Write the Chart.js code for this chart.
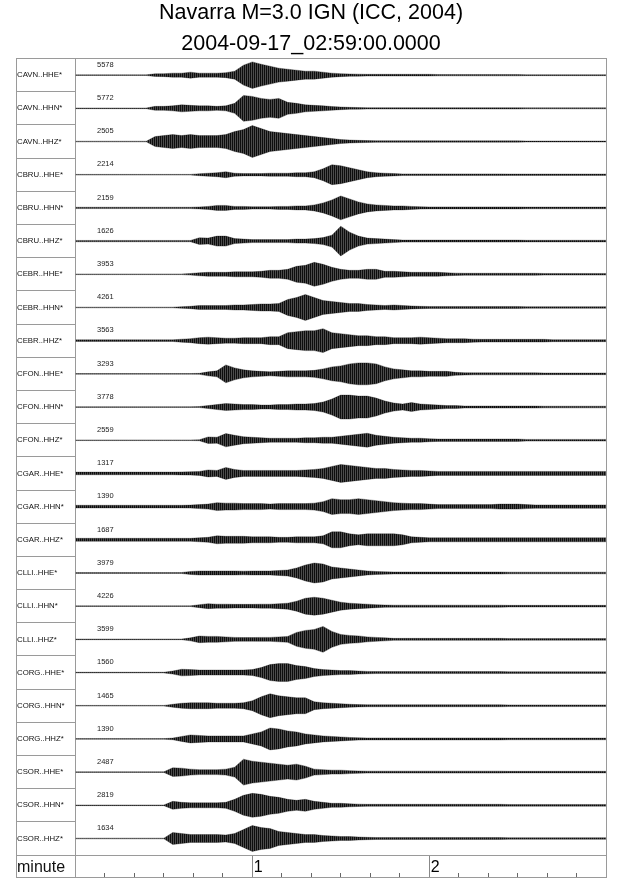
<!DOCTYPE html>
<html><head><meta charset="utf-8">
<script src="https://cdn.jsdelivr.net/npm/chart.js@4.4.1/dist/chart.umd.min.js"></script>
<style>html,body{margin:0;padding:0;background:#fff;}canvas{display:block;}</style>
</head><body>
<canvas id="c" width="640" height="878"></canvas>
<script>
// ---------------- data ----------------
const titleText = 'Navarra M=3.0 IGN (ICC, 2004)';
const subtitleText = '2004-09-17_02:59:00.0000';
const stationNames = ['CAVN..HHE*','CAVN..HHN*','CAVN..HHZ*','CBRU..HHE*','CBRU..HHN*','CBRU..HHZ*',
  'CEBR..HHE*','CEBR..HHN*','CEBR..HHZ*','CFON..HHE*','CFON..HHN*','CFON..HHZ*',
  'CGAR..HHE*','CGAR..HHN*','CGAR..HHZ*','CLLI..HHE*','CLLI..HHN*','CLLI..HHZ*',
  'CORG..HHE*','CORG..HHN*','CORG..HHZ*','CSOR..HHE*','CSOR..HHN*','CSOR..HHZ*'];
const peakCounts = [5578,5772,2505,2214,2159,1626,3953,4261,3563,3293,3778,2559,1317,1390,1687,3979,4226,3599,1560,1465,1390,2487,2819,1634];
const axisLabel = 'minute';
const minorTickSeconds = [10,20,30,40,50,70,80,90,100,110,130,140,150,160,170];
const majorTickSeconds = [60,120];
const majorTickLabels = ['1','2'];
// envelope sample times (s)
const sampleTimes = [0,3,6,9,12,15,18,21,24,27,30,33,36,39,42,45,48,51,54,57,60,63,66,69,72,75,78,81,84,87,90,93,96,99,102,105,108,111,114,117,120,123,126,129,132,135,138,141,144,147,150,153,156,159,162,165,168,171,174,177,180];
// envelope half-amplitude, % of trace peak
const ampCAVN_HHE = [2,2,2,2,2,2,2,2,2,8,9,12,12,18,12,12,12,15,24,60,80,66,54,42,36,30,24,24,18,12,9,7,6,5,5,5,5,5,5,5,5,4,4,4,4,4,4,4,4,4,4,3,3,3,3,3,3,3,3,3,3];
const ampCAVN_HHN = [2,2,2,2,2,2,2,2,2,12,12,15,21,18,15,15,12,15,30,78,72,60,54,60,36,30,21,18,15,11,8,6,5,4,4,4,4,4,4,4,4,4,4,4,4,4,4,4,4,4,4,3,3,3,3,3,3,3,3,3,3];
const ampCAVN_HHZ = [2,2,2,2,2,2,2,2,2,30,36,42,36,42,36,36,36,42,60,72,96,78,60,54,48,42,36,30,24,18,12,9,7,6,5,5,5,5,5,5,5,4,4,4,4,4,4,4,4,4,4,3,3,3,3,3,3,3,3,3,3];
const ampCBRU_HHE = [2,2,2,2,2,2,2,2,2,2,2,2,2,2,6,9,12,18,9,7,7,7,9,9,9,12,12,18,36,60,54,42,30,18,12,9,7,5,5,5,5,5,5,5,5,5,5,5,5,4,4,4,4,4,4,4,4,4,4,4,4];
const ampCBRU_HHN = [4,4,4,4,4,4,4,4,4,4,4,4,4,4,6,9,15,15,9,9,7,7,7,9,9,12,12,18,30,48,72,54,36,24,18,15,12,12,9,7,6,6,6,6,6,6,6,6,6,6,6,5,5,5,5,5,5,5,5,5,5];
const ampCBRU_HHZ = [4,4,4,4,4,4,4,4,4,4,4,4,4,4,20,18,30,30,15,12,9,9,9,9,9,12,12,15,21,36,90,54,30,18,15,12,9,6,6,6,6,6,6,6,6,6,6,6,6,6,6,5,5,5,5,5,5,5,5,5,5];
const ampCEBR_HHE = [2,2,2,2,2,2,2,2,2,2,2,2,2,5,9,12,12,12,15,15,15,18,24,24,30,48,54,72,60,42,30,24,24,30,30,18,18,15,12,12,12,12,9,7,6,6,6,6,6,6,6,6,6,5,5,5,5,5,5,5,5];
const ampCEBR_HHN = [2,2,2,2,2,2,2,2,2,2,2,2,5,7,12,12,12,12,15,15,18,21,21,24,48,60,78,60,42,36,30,24,24,18,15,12,15,12,9,7,6,6,6,6,6,6,6,6,6,6,6,5,5,5,5,5,5,5,5,5,5];
const ampCEBR_HHZ = [5,5,5,5,5,5,5,5,5,5,5,5,9,12,18,21,18,15,15,18,18,18,24,24,48,54,60,60,72,48,42,36,30,30,24,24,18,18,18,21,18,15,12,12,12,9,8,8,8,8,8,8,8,8,6,6,6,6,6,6,6];
const ampCFON_HHE = [2,2,2,2,2,2,2,2,2,2,2,2,2,2,3,12,18,54,36,24,18,15,12,15,18,18,18,21,30,42,48,60,66,66,60,42,30,24,18,18,15,15,15,9,7,6,6,6,6,6,6,6,6,5,5,5,5,5,5,5,5];
const ampCFON_HHN = [2,2,2,2,2,2,2,2,2,2,2,2,2,2,3,9,15,21,18,15,15,12,12,15,15,18,18,21,30,48,72,72,66,66,54,36,24,18,27,18,15,12,9,9,6,6,6,6,6,6,6,6,6,5,5,5,5,5,5,5,5];
const ampCFON_HHZ = [2,2,2,2,2,2,2,2,2,2,2,2,2,2,3,20,18,40,30,21,18,15,12,12,12,12,15,15,18,18,24,30,36,42,30,24,18,15,12,12,9,7,7,7,7,7,7,7,7,7,7,5,5,5,5,5,5,5,5,5,5];
const ampCGAR_HHE = [8,8,8,8,8,8,8,8,8,8,8,8,9,10,12,21,18,36,24,18,18,18,18,18,18,18,21,24,30,42,54,48,42,36,30,30,24,21,18,18,15,12,12,12,12,12,12,12,12,12,12,12,12,12,12,12,12,12,12,12,12];
const ampCGAR_HHN = [8,8,8,8,8,8,8,8,8,8,8,8,8,9,12,15,24,21,21,18,18,18,15,18,18,18,18,21,30,48,42,42,48,42,36,30,24,21,18,18,15,12,12,12,12,12,12,12,15,15,15,12,10,10,10,10,10,10,10,10,10];
const ampCGAR_HHZ = [9,9,9,9,9,9,9,9,9,9,9,9,9,9,12,15,24,21,21,21,18,18,18,15,15,18,18,18,24,48,48,36,30,36,36,36,36,30,18,15,12,12,12,12,12,12,12,12,12,12,12,12,12,12,12,12,12,12,12,12,12];
const ampCLLI_HHE = [3,3,3,3,3,3,3,3,3,3,3,3,3,9,12,12,12,12,12,11,12,12,12,15,18,30,48,60,54,36,30,24,18,12,9,7,6,6,6,6,6,6,6,6,6,6,6,6,6,5,5,5,5,5,5,5,5,5,5,5,5];
const ampCLLI_HHN = [2,2,2,2,2,2,2,2,2,2,2,2,2,2,9,15,12,12,11,11,11,12,12,15,18,30,48,54,48,36,24,18,15,12,9,7,6,6,6,6,6,6,6,6,6,6,6,6,6,5,5,5,5,5,5,5,5,5,5,5,5];
const ampCLLI_HHZ = [2,2,2,2,2,2,2,2,2,2,2,2,2,9,20,18,18,15,12,11,11,12,12,15,18,42,54,60,78,48,30,24,21,15,12,9,6,6,6,6,6,6,6,6,6,6,6,6,6,5,5,5,5,5,5,5,5,5,5,5,5];
const ampCORG_HHE = [2,2,2,2,2,2,2,2,2,2,2,9,20,18,15,15,15,15,15,15,18,30,48,54,54,42,36,24,18,15,12,12,9,7,6,6,6,6,6,6,6,6,6,6,6,6,6,6,6,5,5,5,5,5,5,5,5,5,5,5,5];
const ampCORG_HHN = [2,2,2,2,2,2,2,2,2,2,2,9,15,18,18,18,15,15,15,18,30,54,72,60,54,48,48,24,18,15,12,9,7,6,6,6,6,6,6,6,6,6,6,6,6,6,6,6,6,5,5,5,5,5,5,5,5,5,5,5,5];
const ampCORG_HHZ = [2,2,2,2,2,2,2,2,2,2,2,5,15,24,21,18,18,18,18,18,30,42,66,60,48,42,30,24,18,15,12,9,7,6,6,6,6,6,6,6,6,6,6,6,6,6,6,6,6,5,5,5,5,5,5,5,5,5,5,5,5];
const ampCSOR_HHE = [2,2,2,2,2,2,2,2,2,2,2,26,24,18,15,15,15,18,30,78,66,60,54,48,42,48,36,18,15,12,12,9,7,6,6,6,6,6,6,6,6,6,6,6,6,6,6,6,6,5,5,5,5,5,5,5,5,5,5,5,5];
const ampCSOR_HHN = [2,2,2,2,2,2,2,2,2,2,2,24,18,15,15,15,15,18,36,60,72,66,54,48,36,30,36,24,18,12,12,9,7,6,6,6,6,6,6,6,6,6,6,6,6,6,6,6,6,5,5,5,5,5,5,5,5,5,5,5,5];
const ampCSOR_HHZ = [2,2,2,2,2,2,2,2,2,2,2,36,30,24,24,24,24,21,30,54,78,66,60,42,36,30,24,24,18,15,12,12,9,7,6,6,6,6,6,6,6,6,6,6,6,6,6,6,6,5,5,5,5,5,5,5,5,5,5,5,5];

const envelopes = [ampCAVN_HHE,ampCAVN_HHN,ampCAVN_HHZ,ampCBRU_HHE,ampCBRU_HHN,ampCBRU_HHZ,
  ampCEBR_HHE,ampCEBR_HHN,ampCEBR_HHZ,ampCFON_HHE,ampCFON_HHN,ampCFON_HHZ,
  ampCGAR_HHE,ampCGAR_HHN,ampCGAR_HHZ,ampCLLI_HHE,ampCLLI_HHN,ampCLLI_HHZ,
  ampCORG_HHE,ampCORG_HHN,ampCORG_HHZ,ampCSOR_HHE,ampCSOR_HHN,ampCSOR_HHZ];

// ---------------- layout / style ----------------
const AXIS_MAX = 24.66;          // 24 trace rows + the time-axis row
const MINUTE_ROW = 24.37;
const ROW_HALF = 0.5;            // 100 % -> half a row
const FRAME = '#9a9a9a';

Chart.defaults.font.family = '"Liberation Sans", Arial, Helvetica, sans-serif';
Chart.defaults.color = '#000';

const canvas = document.getElementById('c');
const ctx0 = canvas.getContext('2d');
function makePattern() {
  const c = document.createElement('canvas'); c.width = 2; c.height = 4;
  const g = c.getContext('2d');
  g.fillStyle = 'rgba(0,0,0,0.95)'; g.fillRect(0,0,1,4);
  g.fillStyle = 'rgba(0,0,0,0.7)'; g.fillRect(1,0,1,4);
  return ctx0.createPattern(c, 'repeat');
}
const wavePattern = makePattern();

const datasets = [];
envelopes.forEach((env, r) => {
  const mid = r + 0.5;
  datasets.push({
    data: env.map((a, i) => ({x: sampleTimes[i], y: mid - a / 100 * ROW_HALF})),
    borderColor: 'rgba(0,0,0,0.5)', borderWidth: 0.6, pointRadius: 0, fill: false, tension: 0
  });
  datasets.push({
    data: env.map((a, i) => ({x: sampleTimes[i], y: mid + a / 100 * ROW_HALF})),
    borderColor: 'rgba(0,0,0,0.5)', borderWidth: 0.6, pointRadius: 0,
    backgroundColor: wavePattern, fill: '-1', tension: 0
  });
});

const noPadX = s => { s.height = 0; s.paddingLeft = 0; s.paddingRight = 0; s.paddingTop = 0; s.paddingBottom = 0; };
const noPadY = w => s => { s.width = w; s.paddingLeft = 0; s.paddingRight = 0; s.paddingTop = 0; s.paddingBottom = 0; };

const peakLabelPlugin = {
  id: 'peakLabels',
  afterDatasetsDraw(chart) {
    const {ctx, scales: {x, y}} = chart;
    ctx.save();
    ctx.font = '7.5px "Liberation Sans", Arial, sans-serif';
    ctx.fillStyle = '#222';
    ctx.textAlign = 'left';
    ctx.textBaseline = 'middle';
    peakCounts.forEach((v, i) => ctx.fillText(String(v), x.getPixelForValue(7.3), y.getPixelForValue(i + 0.19)));
    ctx.restore();
  }
};

new Chart(canvas, {
  type: 'line',
  data: {datasets},
  plugins: [peakLabelPlugin],
  options: {
    responsive: false,
    animation: false,
    devicePixelRatio: 1,
    events: [],
    layout: {padding: {left: 16, right: 34, top: 0, bottom: 1}},
    plugins: {
      legend: {display: false},
      tooltip: {enabled: false},
      title: {display: true, text: titleText, color: '#000',
        font: {size: 21.5, weight: 'normal', lineHeight: 0.92}, padding: {top: 3.5, bottom: 11.1}},
      subtitle: {display: true, text: subtitleText, color: '#000',
        font: {size: 21.5, weight: 'normal', lineHeight: 0.92}, padding: {top: 0, bottom: 4.4}}
    },
    scales: {
      x: {
        type: 'linear', min: 0, max: 180, position: 'bottom',
        afterBuildTicks: s => { s.ticks = minorTickSeconds.map(v => ({value: v})); },
        ticks: {display: false},
        grid: {drawOnChartArea: false, drawTicks: true, tickLength: -4, color: '#666', lineWidth: 1},
        border: {display: false},
        afterFit: noPadX
      },
      xMaj: {
        type: 'linear', min: 0, max: 180, position: 'bottom',
        afterBuildTicks: s => { s.ticks = majorTickSeconds.map(v => ({value: v})); },
        ticks: {
          callback: (v, i) => majorTickLabels[i],
          mirror: true, align: 'start', labelOffset: 1.5, padding: 0, maxRotation: 0, autoSkip: false,
          font: {size: 16}, color: '#000'
        },
        grid: {drawOnChartArea: false, drawTicks: true, tickLength: -22, color: '#888', lineWidth: 1},
        border: {display: false},
        afterFit: noPadX
      },
      // station labels: zero-width axis on the outer frame line, labels mirrored to the right
      y: {
        type: 'linear', min: 0, max: AXIS_MAX, reverse: true, position: 'left', weight: 3,
        afterBuildTicks: s => { s.ticks = stationNames.map((_, i) => ({value: i + 0.5})).concat([{value: MINUTE_ROW}]); },
        ticks: {
          callback: (v, i) => i < stationNames.length ? stationNames[i] : axisLabel,
          mirror: true, crossAlign: 'near', padding: 1, autoSkip: false, color: '#111',
          font: c => (c.tick && c.tick.value > 24) ? {size: 16} : {size: 7.8}
        },
        grid: {display: false},
        border: {display: true, color: FRAME, width: 1},
        afterFit: noPadY(0)
      },
      // label column: its border is the column separator
      yCol: {
        type: 'linear', min: 0, max: AXIS_MAX, position: 'left', weight: 2,
        ticks: {display: false}, grid: {display: false},
        border: {display: true, color: FRAME, width: 1},
        afterFit: noPadY(59.5)
      },
      // row separators in the label column + frame lines
      y2: {
        type: 'linear', min: 0, max: AXIS_MAX, reverse: true, position: 'left', weight: 1,
        afterBuildTicks: s => { s.ticks = stationNames.map((_, i) => ({value: i})).concat([{value: 24}, {value: AXIS_MAX}]); },
        ticks: {display: false},
        grid: {
          drawOnChartArea: true, drawTicks: true, tickLength: 59.5, lineWidth: 1,
          color: c => (c.tick && (c.tick.value === 0 || c.tick.value === 24 || c.tick.value === AXIS_MAX)) ? FRAME : 'rgba(0,0,0,0)',
          tickColor: FRAME
        },
        border: {display: false},
        afterFit: noPadY(0)
      },
      yR: {
        type: 'linear', min: 0, max: AXIS_MAX, position: 'right',
        ticks: {display: false}, grid: {display: false},
        border: {display: true, color: FRAME, width: 1},
        afterFit: noPadY(0)
      }
    }
  }
});
</script>
</body></html>
